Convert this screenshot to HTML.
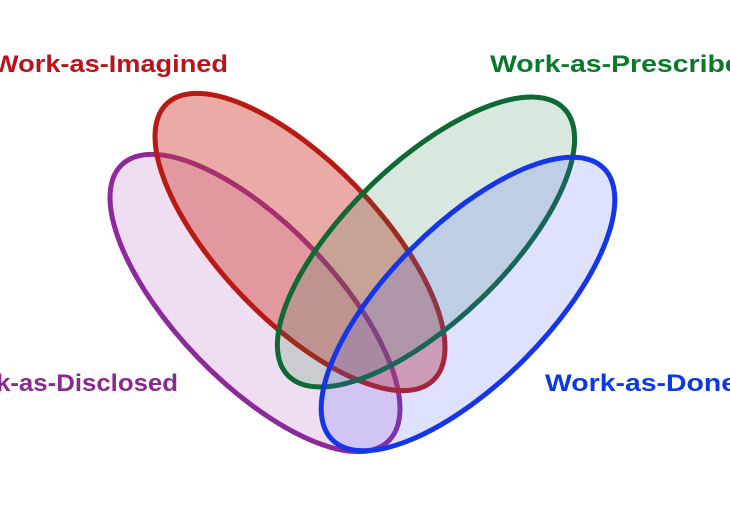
<!DOCTYPE html>
<html><head><meta charset="utf-8"><style>
html,body{margin:0;padding:0;background:#fff;width:730px;height:507px;overflow:hidden}
svg{display:block}
text{font-family:"Liberation Sans",sans-serif;font-weight:bold;font-size:24px}
</style></head><body>
<svg width="730" height="507" viewBox="0 0 730 507">
<g stroke-width="5">
<ellipse cx="255" cy="303" rx="192" ry="79" transform="rotate(46 255 303)" fill="rgba(160,60,170,0.17)" stroke="#8c2a9c"/>
<ellipse cx="300" cy="242" rx="192" ry="79" transform="rotate(46 300 242)" fill="rgba(205,55,45,0.42)" stroke="#b81a14"/>
<ellipse cx="426" cy="242" rx="192" ry="79" transform="rotate(-44 426 242)" fill="rgba(40,130,70,0.18)" stroke="#0e6a32"/>
<ellipse cx="468" cy="304" rx="192" ry="79" transform="rotate(-45 468 304)" fill="rgba(70,90,255,0.18)" stroke="#1535e8"/>
</g>
<text x="-7" y="72" fill="#b8141a" textLength="235" lengthAdjust="spacingAndGlyphs">Work-as-Imagined</text>
<text x="490" y="72" fill="#0a7a2a" textLength="268" lengthAdjust="spacingAndGlyphs">Work-as-Prescribed</text>
<text x="-4" y="391" fill="#8a2a90" textLength="182" lengthAdjust="spacingAndGlyphs">k-as-Disclosed</text>
<text x="545" y="391" fill="#0a3ae0" textLength="192" lengthAdjust="spacingAndGlyphs">Work-as-Done</text>
</svg>
</body></html>
